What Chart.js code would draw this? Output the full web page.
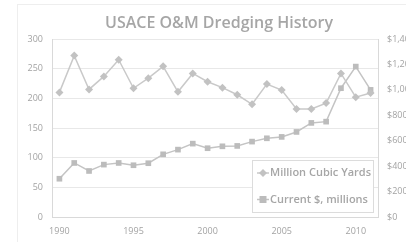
<!DOCTYPE html>
<html><head><meta charset="utf-8">
<script src="https://cdn.jsdelivr.net/npm/chart.js@4"></script>
<style>html,body{margin:0;padding:0;background:#fff}#wrap{width:406px;height:242px;position:relative}</style>
</head><body><div id="wrap"><canvas id="c" width="406" height="242"></canvas></div>
<script>
const titleText = "USACE O&M Dredging History";
const years = ["1990","1991","1992","1993","1994","1995","1996","1997","1998","1999","2000","2001","2002","2003","2004","2005","2006","2007","2008","2009","2010","2011"];
const cubicYards = [210,272,215,237,265,217,234,254,211,242,228,218,206,190,224,214,182,182,192,242,202,209];
const currentDollars = [301,425,362,412,425,407,423,493,530,577,541,556,559,593,619,630,669,740,750,1013,1183,1000];
const seriesNames = ["Million Cubic Yards","Current $, millions"];

const lineColor1 = "#c9c9c9", pointColor1 = "#c2c2c2";
const lineColor2 = "#c4c4c4", pointColor2 = "#bcbcbc";
const tickColor = "#a3a3a3";
const gridColor = "#e8e8e8";
const FONT = "'Open Sans', 'Liberation Sans', sans-serif";

const deco = {
  id: 'deco',
  beforeDraw(chart) {
    const ctx = chart.ctx;
    ctx.save();
    ctx.strokeStyle = '#eeeeee';
    ctx.lineWidth = 1;
    ctx.strokeRect(17.5, 4.5, 500, 500);
    ctx.restore();
  },
  afterDraw(chart) {
    const ctx = chart.ctx;
    ctx.save();
    // title
    ctx.fillStyle = '#a6a6a6';
    ctx.font = "600 16px " + FONT;
    ctx.textAlign = 'center';
    ctx.textBaseline = 'middle';
    ctx.fillText(titleText, 219, 23);
    // legend
    const x0 = 252.5, y0 = 160.5, w = 121, h = 52;
    ctx.fillStyle = '#ffffff';
    ctx.fillRect(x0, y0, w, h);
    ctx.strokeStyle = '#dcdcdc';
    ctx.lineWidth = 1;
    ctx.strokeRect(x0, y0, w, h);
    const rows = [173, 199.5];
    const styles = [
      {line: lineColor1, pt: pointColor1, shape: 'diamond'},
      {line: lineColor2, pt: pointColor2, shape: 'rect'}
    ];
    ctx.font = "600 11px " + FONT;
    ctx.textAlign = 'left';
    ctx.textBaseline = 'middle';
    seriesNames.forEach((name, i) => {
      const y = rows[i];
      ctx.strokeStyle = styles[i].line;
      ctx.lineWidth = 1.5;
      ctx.beginPath(); ctx.moveTo(257, y); ctx.lineTo(269, y); ctx.stroke();
      ctx.fillStyle = styles[i].pt;
      ctx.beginPath();
      if (styles[i].shape === 'rect') { ctx.rect(263 - 3.5, y - 3.5, 7, 7); }
      else { ctx.moveTo(263, y - 4); ctx.lineTo(267, y); ctx.lineTo(263, y + 4); ctx.lineTo(259, y); ctx.closePath(); }
      ctx.fill();
      ctx.fillStyle = '#a6a6a6';
      ctx.fillText(name, 270, y);
    });
    ctx.restore();
  }
};

new Chart(document.getElementById('c'), {
  type: 'line',
  data: {
    labels: years,
    datasets: [
      { label: seriesNames[0], data: cubicYards, yAxisID: 'y',
        borderColor: lineColor1, backgroundColor: pointColor1, borderWidth: 1.5,
        pointStyle: 'rectRot', pointRadius: 4, pointBackgroundColor: pointColor1, pointBorderWidth: 0, tension: 0 },
      { label: seriesNames[1], data: currentDollars, yAxisID: 'y1',
        borderColor: lineColor2, backgroundColor: pointColor2, borderWidth: 1.5,
        pointStyle: 'rect', pointRadius: 4, pointBackgroundColor: pointColor2, pointBorderWidth: 0, tension: 0 }
    ]
  },
  options: {
    responsive: false,
    animation: false,
    devicePixelRatio: 1,
    layout: { padding: { top: 39, left: 0, right: 0, bottom: 0 } },
    plugins: { legend: { display: false }, title: { display: false }, tooltip: { enabled: false } },
    scales: {
      x: {
        offset: true,
        grid: { display: false, drawTicks: false },
        border: { display: true, color: '#d9d9d9' },
        ticks: { autoSkip: false, maxRotation: 0, padding: 9, color: tickColor,
          font: { family: FONT, size: 9 },
          callback(v) { const l = this.getLabelForValue(v); return (+l) % 5 === 0 ? l : ''; } },
        afterFit(s) { s.height = 25; }
      },
      y: {
        position: 'left', min: 0, max: 300,
        ticks: { stepSize: 50, padding: 9, color: tickColor, font: { family: FONT, size: 9 } },
        grid: { color: gridColor, drawTicks: false },
        border: { display: true, color: '#d9d9d9' },
        afterFit(s) { s.width = 52; }
      },
      y1: {
        position: 'right', min: 0, max: 1400,
        ticks: { stepSize: 200, padding: 9, color: tickColor, font: { family: FONT, size: 9 },
          callback(v) { return '$' + v.toLocaleString('en-US'); } },
        grid: { display: false, drawTicks: false },
        border: { display: true, color: '#d9d9d9' },
        afterFit(s) { s.width = 28; }
      }
    }
  },
  plugins: [deco]
});
</script></body></html>
